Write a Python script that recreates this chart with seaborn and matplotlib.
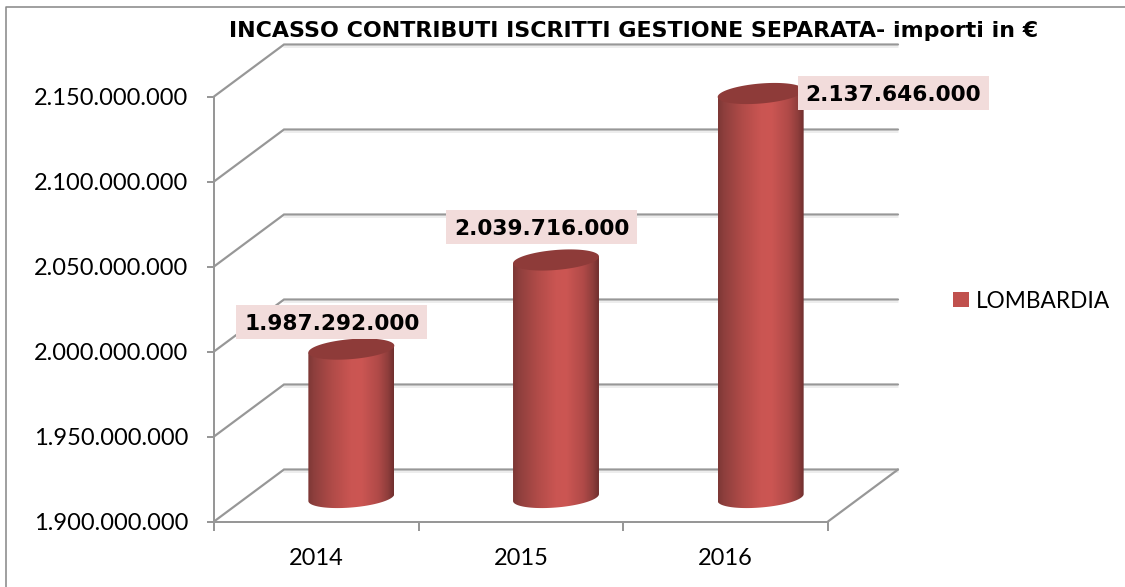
import numpy as np
import pandas as pd
import matplotlib
matplotlib.use("Agg")
import matplotlib.pyplot as plt
import seaborn as sns
from matplotlib.colors import LinearSegmentedColormap
from matplotlib.patches import Patch, Polygon, Rectangle
from matplotlib.ticker import FuncFormatter

# Values
years = ["2014", "2015", "2016"]
incasso = [1987292000, 2039716000, 2137646000]
y_ticks = [1900000000, 1950000000, 2000000000, 2050000000, 2100000000, 2150000000]
series_name = "LOMBARDIA"
title = "INCASSO CONTRIBUTI ISCRITTI GESTIONE SEPARATA- importi in €"

W, H = 1125, 587
GREY = "#979797"
RED = "#C0504D"
LABEL_BG = "#F2DCDB"

# Fake 3D depth, in pixels
DEPTH_X, DEPTH_Y = 70, 52
HALF_H, TILT = 10, 0.08
LABEL_W, LABEL_H = 191, 34

# Where each value label sits relative to the top of its cylinder
label_offsets = [(-19.5, -27), (-14.5, -33), (132.5, -1)]


def dotted(v, pos=None):
    return f"{int(v):,}".replace(",", ".")


def px(points=None):
    return points * 72 / 100


sns.set_theme(style="white")
plt.rcParams["font.family"] = ["Lato", "DejaVu Sans"]

fig = plt.figure(figsize=(W / 100, H / 100), dpi=100)
ax = fig.add_axes([214 / W, 1 - 521.5 / H, (828 - 214) / W, (521.5 - 96.5) / H])

df = pd.DataFrame({"anno": years, "incasso": incasso})
sns.barplot(data=df, x="anno", y="incasso", color=RED, width=0.42, saturation=1, ax=ax)
ax.set_xlim(-0.5, 2.5)
ax.set_ylim(y_ticks[0], y_ticks[-1])
ax.set_xlabel("")
ax.set_ylabel("")
ax.set_yticks(y_ticks)
ax.yaxis.set_major_formatter(FuncFormatter(dotted))
ax.set_xticks([-0.5, 0.5, 1.5, 2.5], minor=True)
ax.tick_params(axis="x", which="minor", bottom=True, length=px(9), width=px(2), color=GREY)
ax.tick_params(axis="x", which="major", bottom=False, pad=px(18), labelsize=17, labelcolor="black")
ax.tick_params(axis="y", left=True, length=px(7), width=px(2), color=GREY,
               pad=px(19), labelsize=17, labelcolor="black")
sns.despine(ax=ax)
for side in ["left", "bottom"]:
    ax.spines[side].set_color(GREY)
    ax.spines[side].set_linewidth(px(2))

# Overlay in pixel units, for the parts drawn in perspective
over = fig.add_axes([0, 0, 1, 1], facecolor="none")
over.set_xlim(0, W)
over.set_ylim(H, 0)
over.axis("off")


def to_over(x, y):
    return over.transData.inverted().transform(ax.transData.transform((x, y)))


# Chart frame
over.plot([6, 6, W], [H, 7, 7], color="#8A8A8A", lw=px(1.6), clip_on=False)

# Wall gridlines and floor, each with its faint shadow
x0, x1 = ax.get_xlim()
for tick in y_ticks:
    lx, ly = to_over(x0, tick)
    rx, _ = to_over(x1, tick)
    over.plot([lx + DEPTH_X, rx + DEPTH_X], [ly - DEPTH_Y + 2] * 2, color="#E8E8E8", lw=px(1.5), zorder=1)
    over.plot([lx, lx + DEPTH_X, rx + DEPTH_X], [ly, ly - DEPTH_Y, ly - DEPTH_Y],
              color=GREY, lw=px(2.2), solid_joinstyle="miter", zorder=2)
lx, ly = to_over(x1, y_ticks[0])
over.plot([lx, lx + DEPTH_X], [ly, ly - DEPTH_Y], color=GREY, lw=px(2.2), zorder=2)

# Cylinders are built on the geometry of the seaborn bars
side_cmap = LinearSegmentedColormap.from_list("cyl", [
    (0.0, "#7C3735"), (0.07, "#8E3F3D"), (0.28, "#B04B48"), (0.5, "#CA5552"),
    (0.62, "#CC5653"), (0.82, "#B04A48"), (0.93, "#8F3E3C"), (1.0, "#702F2E")])
gradient = np.linspace(0, 1, 256).reshape(1, -1)
theta = np.linspace(0, 2 * np.pi, 120)

for bar, value, offset in zip(ax.patches, incasso, label_offsets):
    bar.set_visible(False)
    left, bottom = to_over(bar.get_x(), y_ticks[0])
    right, top = to_over(bar.get_x() + bar.get_width(), value)
    left, right = left + DEPTH_X / 2, right + DEPTH_X / 2
    bottom, top = bottom - DEPTH_Y / 2 + 2, top - DEPTH_Y / 2 + 2
    cx, a = (left + right) / 2, (right - left) / 2
    ring_x = cx + a * np.cos(theta)
    ring_y = HALF_H * np.sin(theta) - TILT * a * np.cos(theta)

    lower = theta <= np.pi
    outline = np.vstack([
        np.column_stack([ring_x[lower], bottom + ring_y[lower]]),
        [[left, top + TILT * a], [right, top - TILT * a]],
    ])
    body = Polygon(outline, closed=True, transform=over.transData, fc="none", ec="none")
    over.add_patch(body)
    img = over.imshow(gradient, cmap=side_cmap, aspect="auto", zorder=3,
                      interpolation="bilinear",
                      extent=[left, right, bottom + HALF_H + 5, top - HALF_H - 5])
    img.set_clip_path(body)
    over.add_patch(Polygon(np.column_stack([ring_x, top + ring_y]), closed=True,
                           fc="#8E3B39", ec="none", zorder=4))
    lab_x, lab_y = cx + offset[0], top + offset[1]
    over.add_patch(Rectangle((lab_x - LABEL_W / 2, lab_y - LABEL_H / 2), LABEL_W, LABEL_H,
                             fc=LABEL_BG, ec="none", zorder=5))
    over.text(lab_x, lab_y, dotted(value), ha="center", va="center_baseline",
              fontsize=15.6, fontweight="bold", family="DejaVu Sans", color="black", zorder=6)

over.set_xlim(0, W)
over.set_ylim(H, 0)

over.text(634, 31, title, ha="center", va="center", fontsize=15.95,
          fontweight="bold", family="DejaVu Sans", color="black", zorder=6)

fig.legend(handles=[Patch(facecolor=RED, edgecolor="none", linewidth=0, label=series_name)],
           loc="center left", bbox_to_anchor=(933 / W, 1 - 301 / H), frameon=False, fontsize=16.3,
           handlelength=0.68, handleheight=0.68, handletextpad=0.3, labelcolor="black")

fig.savefig("out.png", dpi=100)
